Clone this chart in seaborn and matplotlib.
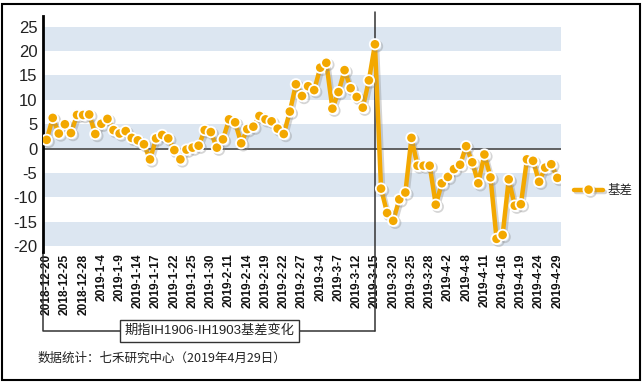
import numpy as np
import pandas as pd
import seaborn as sns
import matplotlib.pyplot as plt
import matplotlib.patheffects as pe
from matplotlib.patches import Rectangle

# Trading days from 2018-12-20 to 2019-4-29
dates = ['2018-12-20', '2018-12-21', '2018-12-24', '2018-12-25', '2018-12-26', '2018-12-27', '2018-12-28',
         '2019-1-2', '2019-1-3', '2019-1-4', '2019-1-7', '2019-1-8', '2019-1-9', '2019-1-10', '2019-1-11',
         '2019-1-14', '2019-1-15', '2019-1-16', '2019-1-17', '2019-1-18', '2019-1-21', '2019-1-22',
         '2019-1-23', '2019-1-24', '2019-1-25', '2019-1-28', '2019-1-29', '2019-1-30', '2019-1-31',
         '2019-2-1', '2019-2-11', '2019-2-12', '2019-2-13', '2019-2-14', '2019-2-15', '2019-2-18',
         '2019-2-19', '2019-2-20', '2019-2-21', '2019-2-22', '2019-2-25', '2019-2-26', '2019-2-27',
         '2019-2-28', '2019-3-1', '2019-3-4', '2019-3-5', '2019-3-6', '2019-3-7', '2019-3-8', '2019-3-11',
         '2019-3-12', '2019-3-13', '2019-3-14', '2019-3-15', '2019-3-18', '2019-3-19', '2019-3-20',
         '2019-3-21', '2019-3-22', '2019-3-25', '2019-3-26', '2019-3-27', '2019-3-28', '2019-3-29',
         '2019-4-1', '2019-4-2', '2019-4-3', '2019-4-4', '2019-4-8', '2019-4-9', '2019-4-10', '2019-4-11',
         '2019-4-12', '2019-4-15', '2019-4-16', '2019-4-17', '2019-4-18', '2019-4-19', '2019-4-22',
         '2019-4-23', '2019-4-24', '2019-4-25', '2019-4-26', '2019-4-29']

# 基差 (IH1906 - IH1903)
basis = [1.8, 6.3, 3.1, 5.0, 3.2, 6.9, 6.9, 7.0, 3.0, 5.1, 6.1, 3.8, 3.1, 3.6, 2.2, 1.7, 0.9,
         -2.2, 2.1, 2.8, 2.1, -0.3, -2.2, -0.2, 0.2, 0.6, 3.8, 3.4, 0.2, 1.9, 6.0, 5.4, 1.1, 4.0,
         4.5, 6.7, 6.0, 5.6, 4.1, 3.0, 7.6, 13.2, 10.8, 12.8, 12.0, 16.6, 17.6, 8.2, 11.6, 16.1,
         12.4, 10.6, 8.4, 14.0, 21.4, -8.2, -13.2, -14.8, -10.4, -9.0, 2.2, -3.5, -3.5, -3.5,
         -11.5, -7.1, -5.8, -4.2, -3.3, 0.5, -2.8, -7.1, -1.2, -5.9, -18.5, -17.7, -6.3, -11.7,
         -11.4, -2.2, -2.5, -6.8, -3.9, -3.2, -6.0]

switch_date = '2019-3-15'
y_ticks = [25, 20, 15, 10, 5, 0, -5, -10, -15, -20]

orange = '#F3A800'
band = '#DCE6F1'

sns.set_style('white')
plt.rcParams['font.family'] = ['Liberation Sans', 'Noto Sans CJK SC']

df = pd.DataFrame({'idx': np.arange(len(dates)), 'date': dates, '基差': basis})

fig = plt.figure(figsize=(6.43, 3.82), dpi=100)
ax = fig.add_axes([43 / 643, 1 - 252 / 382, 518 / 643, 236 / 382])

# alternating shaded bands
for lo in [20, 10, 0, -10, -20]:
    ax.axhspan(lo, lo + 5, color=band, lw=0, zorder=0)
ax.axhline(0, color='#555555', lw=1.3, zorder=1)

sns.lineplot(data=df, x='idx', y='基差', ax=ax, color=orange, lw=3.2,
             marker='o', markersize=7.5, markeredgecolor='white', markeredgewidth=1.3,
             label='基差', legend=False, zorder=3)
for line in ax.get_lines()[-1:]:
    line.set_path_effects([pe.SimpleLineShadow(offset=(1.5, -1.5), shadow_color='#888888', alpha=0.35),
                           pe.Normal()])

ax.set_xlim(-0.6, 84.6)
ax.set_ylim(-21.2, 27.2)
ax.set_yticks(y_ticks)
ax.set_yticklabels([str(v) for v in y_ticks], fontsize=12, color='#222222')
tick_pos = df['idx'][::3]
ax.set_xticks(tick_pos)
ax.set_xticklabels(df['date'][::3], rotation=90, fontsize=8.6, color='#111111',
                   fontweight='bold')
ax.tick_params(axis='both', length=0)
ax.tick_params(axis='y', pad=4)
ax.tick_params(axis='x', pad=1)
ax.set_xlabel('')
ax.set_ylabel('')
for s in ['top', 'right', 'bottom']:
    ax.spines[s].set_visible(False)
ax.spines['left'].set_color('black')
ax.spines['left'].set_linewidth(2)

# marker of the contract switch and the bracket below the axis
sx = dates.index(switch_date)
ax.axvline(sx, ymin=-0.335, ymax=1.017, color='#333333', lw=1.1, clip_on=False, zorder=2)
x_sw = (sx - ax.get_xlim()[0]) / (ax.get_xlim()[1] - ax.get_xlim()[0])
ax.plot([0, 0, x_sw], [0, -0.335, -0.335], transform=ax.transAxes, color='#333333',
        lw=1.1, clip_on=False)
ax.text(0.322, -0.335, '期指IH1906-IH1903基差变化', transform=ax.transAxes, ha='center',
        va='center', fontsize=9.5, color='#222222',
        bbox=dict(boxstyle='square,pad=0.35', fc='white', ec='#333333', lw=1), zorder=5)

fig.text(38 / 643, 1 - 358 / 382, '数据统计：七禾研究中心（2019年4月29日）', fontsize=9,
         color='#222222', va='center', family=['Noto Sans CJK SC'])

fig.legend(loc='center left', bbox_to_anchor=(563 / 643, 1 - 191 / 382), frameon=False,
           fontsize=9, handlelength=2.3, handletextpad=0.4)

fig.add_artist(Rectangle((1.5 / 643, 2.5 / 382), 638.5 / 643, 376 / 382, transform=fig.transFigure,
                         fill=False, ec='black', lw=1.5))

fig.savefig('out.png', dpi=100)
